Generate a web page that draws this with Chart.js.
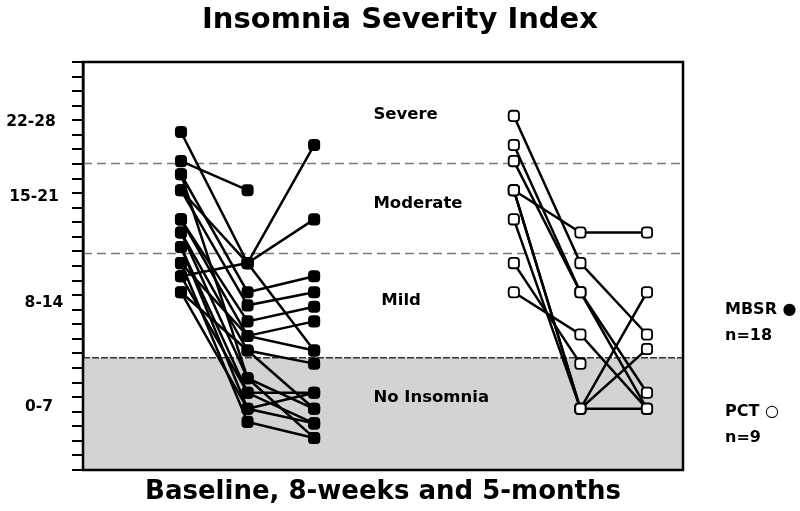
<!DOCTYPE html>
<html>
<head>
<meta charset="utf-8">
<script src="https://cdn.jsdelivr.net/npm/chart.js@4.4.0/dist/chart.umd.min.js"></script>
<style>
    html, body { margin: 0; padding: 0; background: #fff; }
</style>
</head>
<body>
<canvas id="isi" width="800" height="511"></canvas>
<script>
var TIMEPOINTS = ['Baseline', '8-weeks', '5-months'];
var SEVERITY_RANGES = ['0-7', '8-14', '15-21', '22-28'];
var SEVERITY_NAMES = ['No Insomnia', 'Mild', 'Moderate', 'Severe'];
var BAND_CUTS = [7.7, 14.9, 21.05];

// one value per participant and visit, null = no visit
var mbsrBaseline = [23.2, 21.2, 19.2, 13.3, 20.3, 19.2, 17.2, 17.2, 16.3, 16.3, 15.3, 15.3, 14.2, 14.2, 13.3, 12.2, 12.2, 20.3];
var mbsrWeek8    = [14.2, 19.2, 14.2, 14.2, 12.2, 11.3, 10.2,  9.2,  8.2,  6.3,  5.3,  4.2,  3.3,  9.2,  5.3,  8.2,  4.2,  6.3];
var mbsrMonth5   = [ 8.2, null, 22.3, 17.2, 13.3, 12.2, 11.2, 10.2,  7.3,  4.2,  5.3,  3.2,  2.2,  8.2,  3.2,  4.2,  5.3,  2.2];

var pctBaseline = [24.3, 22.3, 21.2, 19.2, 19.2, 19.2, 17.2, 14.2, 12.2];
var pctWeek8    = [14.2, 12.2, 12.2, 16.3,  4.2,  4.2,  4.2,  7.3,  9.3];
var pctMonth5   = [ 9.3,  5.3,  4.2, 16.3, 12.2,  8.3,  4.2, null,  4.2];

var GROUPS = ['MBSR \u25CF', 'PCT \u25CB'];
var GROUP_N = ['n=18', 'n=9'];

var FONT = 'DejaVu Sans';

function participantLines(b, w, m, offset, fill) {
    return b.map(function(v, i) {
        var pts = [];
        [v, w[i], m[i]].forEach(function(y, t) {
            if (y !== null) pts.push({x: offset + t, y: y});
        });
        return {
            data: pts,
            showLine: true,
            borderColor: '#000',
            borderWidth: 2.5,
            pointStyle: 'rectRounded',
            pointRadius: 6,
            pointBackgroundColor: fill,
            pointBorderColor: '#000',
            pointBorderWidth: 1.8
        };
    });
}

var datasets = participantLines(mbsrBaseline, mbsrWeek8, mbsrMonth5, 0, '#000')
    .concat(participantLines(pctBaseline, pctWeek8, pctMonth5, 5, '#fff'));

// severity bands behind the lines
var bands = {
    id: 'bands',
    beforeDatasetsDraw: function(chart) {
        var ctx = chart.ctx, a = chart.chartArea, y = chart.scales.y;
        var g = y.getPixelForValue(BAND_CUTS[0]);
        ctx.save();
        ctx.fillStyle = '#d3d3d3';
        ctx.fillRect(a.left, g, a.right - a.left, a.bottom - g);
        ctx.lineWidth = 1.5;
        ctx.strokeStyle = '#333';
        ctx.setLineDash([7, 2]);
        ctx.beginPath();
        ctx.moveTo(a.left, g);
        ctx.lineTo(a.right, g);
        ctx.stroke();
        ctx.strokeStyle = '#7a7a7a';
        ctx.setLineDash([9, 5]);
        [BAND_CUTS[1], BAND_CUTS[2]].forEach(function(c) {
            var p = Math.round(y.getPixelForValue(c)) + 0.5;
            ctx.beginPath();
            ctx.moveTo(a.left, p);
            ctx.lineTo(a.right, p);
            ctx.stroke();
        });
        ctx.restore();
    },
    afterDatasetsDraw: function(chart) {
        var ctx = chart.ctx, a = chart.chartArea;
        ctx.save();
        ctx.strokeStyle = '#000';
        ctx.lineWidth = 2.5;
        ctx.strokeRect(a.left, a.top, a.right - a.left, a.bottom - a.top);
        ctx.restore();
    }
};

// range labels, band names and group key
var labels = {
    id: 'labels',
    afterDraw: function(chart) {
        var ctx = chart.ctx, x = chart.scales.x, y = chart.scales.y;
        ctx.save();
        ctx.fillStyle = '#000';
        ctx.textBaseline = 'middle';

        ctx.font = 'bold 15.5px ' + FONT;
        ctx.textAlign = 'center';
        var rangeAt = [[39, 4.35], [44, 11.45], [34, 18.75], [31, 23.9]];
        SEVERITY_RANGES.forEach(function(t, i) {
            ctx.fillText(t, rangeAt[i][0], y.getPixelForValue(rangeAt[i][1]));
        });

        ctx.font = 'bold 16.5px ' + FONT;
        ctx.textAlign = 'left';
        var nameAt = [[2.89, 4.95], [3.01, 11.65], [2.89, 18.25], [2.89, 24.4]];
        SEVERITY_NAMES.forEach(function(t, i) {
            ctx.fillText(t, x.getPixelForValue(nameAt[i][0]), y.getPixelForValue(nameAt[i][1]));
        });

        ctx.font = 'bold 16px ' + FONT;
        var keyAt = [[310, 336], [412, 437.5]];
        GROUPS.forEach(function(t, i) {
            ctx.fillText(t, 725, keyAt[i][0]);
            ctx.fillText(GROUP_N[i], 725, keyAt[i][1]);
        });
        ctx.restore();
    }
};

new Chart(document.getElementById('isi'), {
    type: 'scatter',
    data: { datasets: datasets },
    options: {
        responsive: false,
        animation: false,
        layout: { padding: 0 },
        plugins: {
            legend: { display: false },
            tooltip: { enabled: false },
            title: {
                display: true,
                text: 'Insomnia Severity Index',
                color: '#000',
                font: { family: FONT, size: 29, weight: 'bold' },
                padding: { top: 3, bottom: 24.2 }
            }
        },
        scales: {
            x: {
                type: 'linear',
                min: -1.472,
                max: 7.541,
                ticks: { display: false },
                grid: { display: false, drawTicks: false },
                border: { display: false },
                title: {
                    display: true,
                    text: TIMEPOINTS[0] + ', ' + TIMEPOINTS[1] + ' and ' + TIMEPOINTS[2],
                    color: '#000',
                    font: { family: FONT, size: 26, weight: 'bold' },
                    padding: { top: 6.8, bottom: 3 }
                }
            },
            y: {
                min: 0,
                max: 28,
                ticks: { display: false, stepSize: 1, autoSkip: false },
                grid: { drawOnChartArea: false, drawTicks: true, tickLength: 11, color: '#000', lineWidth: 2 },
                border: { display: true, color: '#000', width: 2.5 },
                afterFit: function(s) { s.width = 83; }
            },
            // empty right-hand strip that holds the group key
            key: {
                position: 'right',
                min: 0,
                max: 1,
                ticks: { display: false },
                grid: { display: false, drawTicks: false },
                border: { display: false },
                afterFit: function(s) { s.width = 117; }
            }
        }
    },
    plugins: [bands, labels]
});
</script>
</body>
</html>
